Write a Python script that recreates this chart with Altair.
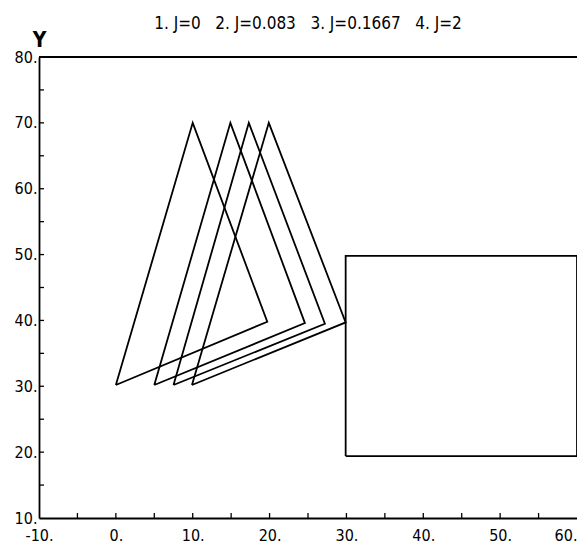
import altair as alt
import pandas as pd

# Shape outlines (closed polygons)
tri1_x = [0.0, 10.0, 19.7, 0.0]
tri1_y = [30.2, 70.0, 39.8, 30.2]
tri2_x = [5.0, 14.9, 24.6, 5.0]
tri2_y = [30.2, 70.0, 39.6, 30.2]
tri3_x = [7.5, 17.3, 27.2, 7.5]
tri3_y = [30.2, 70.0, 39.5, 30.2]
tri4_x = [9.9, 19.9, 29.9, 9.9]
tri4_y = [30.2, 70.0, 39.7, 30.2]
rect_x = [29.9, 60.0, 60.0, 29.9, 29.9]
rect_y = [19.4, 19.4, 49.8, 49.8, 19.4]

shape_names = ["1", "2", "3", "4", "rect"]
shape_xs = [tri1_x, tri2_x, tri3_x, tri4_x, rect_x]
shape_ys = [tri1_y, tri2_y, tri3_y, tri4_y, rect_y]

x_labels = [-10, 0, 10, 20, 30, 40, 50, 60]
y_labels = [10, 20, 30, 40, 50, 60, 70, 80]
x_ticks = [-5, 0, 5, 10, 15, 20, 25, 30, 35, 40, 45, 50, 55]
y_ticks = [15, 20, 25, 30, 35, 40, 45, 50, 55, 60, 65, 70, 75]

legend_items = ["1. J=0", "2. J=0.083", "3. J=0.1667", "4. J=2"]
title_text = "\u00a0\u00a0\u00a0".join(legend_items)

rows = []
for name, xs, ys in zip(shape_names, shape_xs, shape_ys):
    for i, (xv, yv) in enumerate(zip(xs, ys)):
        rows.append({"shape": name, "order": i, "x": xv, "y": yv})
df = pd.DataFrame(rows)

FONT = "DejaVu Sans Condensed"
H = 461

xscale = alt.Scale(domain=[-10, 60], nice=False, zero=False)
yscale = alt.Scale(domain=[10, 80], nice=False, zero=False)

lines = alt.Chart(df).mark_line(color="black", strokeWidth=1.8).encode(
    x=alt.X("x:Q", scale=xscale,
            axis=alt.Axis(values=x_labels, labelExpr="datum.value + '.'",
                          tickSize=0, labelPadding=9, labelFontSize=16,
                          labelFlush=False,
                          labelAlign={"condition": {"test": "datum.value == 60", "value": "right"},
                                      "value": "center"},
                          labelFont=FONT, labelColor="black", grid=False,
                          domainColor="black", domainWidth=1.8, title=None)),
    y=alt.Y("y:Q", scale=yscale,
            axis=alt.Axis(values=y_labels, labelExpr="datum.value + '.'",
                          tickSize=0, labelPadding=2, labelFontSize=16,
                          labelFlush=False,
                          labelFont=FONT, labelColor="black", grid=False,
                          domainColor="black", domainWidth=1.8,
                          title="Y", titleAngle=0, titleX=0, titleY=-7,
                          titleAlign="center", titleBaseline="bottom",
                          titleFontSize=21, titleFont=FONT, titleFontWeight="bold",
                          titleColor="black")),
    detail="shape:N",
    order="order:Q",
)

top_df = pd.DataFrame({"x": [-10], "x2": [60], "y": [80]})
top_line = alt.Chart(top_df).mark_rule(color="black", strokeWidth=1.8).encode(
    x=alt.X("x:Q", scale=xscale), x2="x2:Q", y=alt.Y("y:Q", scale=yscale)
)

xt_df = pd.DataFrame({"x": x_ticks})
xt = alt.Chart(xt_df).mark_rule(color="black", strokeWidth=1.3).encode(
    x=alt.X("x:Q", scale=xscale), y=alt.value(H), y2=alt.value(H - 5)
)
yt_df = pd.DataFrame({"y": y_ticks})
yt = alt.Chart(yt_df).mark_rule(color="black", strokeWidth=1.3).encode(
    y=alt.Y("y:Q", scale=yscale), x=alt.value(0), x2=alt.value(5)
)

chart = alt.layer(lines, top_line, xt, yt).properties(
    width=538, height=H,
    autosize=alt.AutoSizeParams(type="none"),
    padding={"left": 31, "top": 49, "right": 0, "bottom": 25},
    title=alt.TitleParams(title_text, fontSize=17, font=FONT, fontWeight="normal",
                          color="black", anchor="middle", offset=-4),
).configure_view(stroke=None).configure(background="white")

chart.save("out.html", embed_options={"renderer": "svg", "actions": False})
